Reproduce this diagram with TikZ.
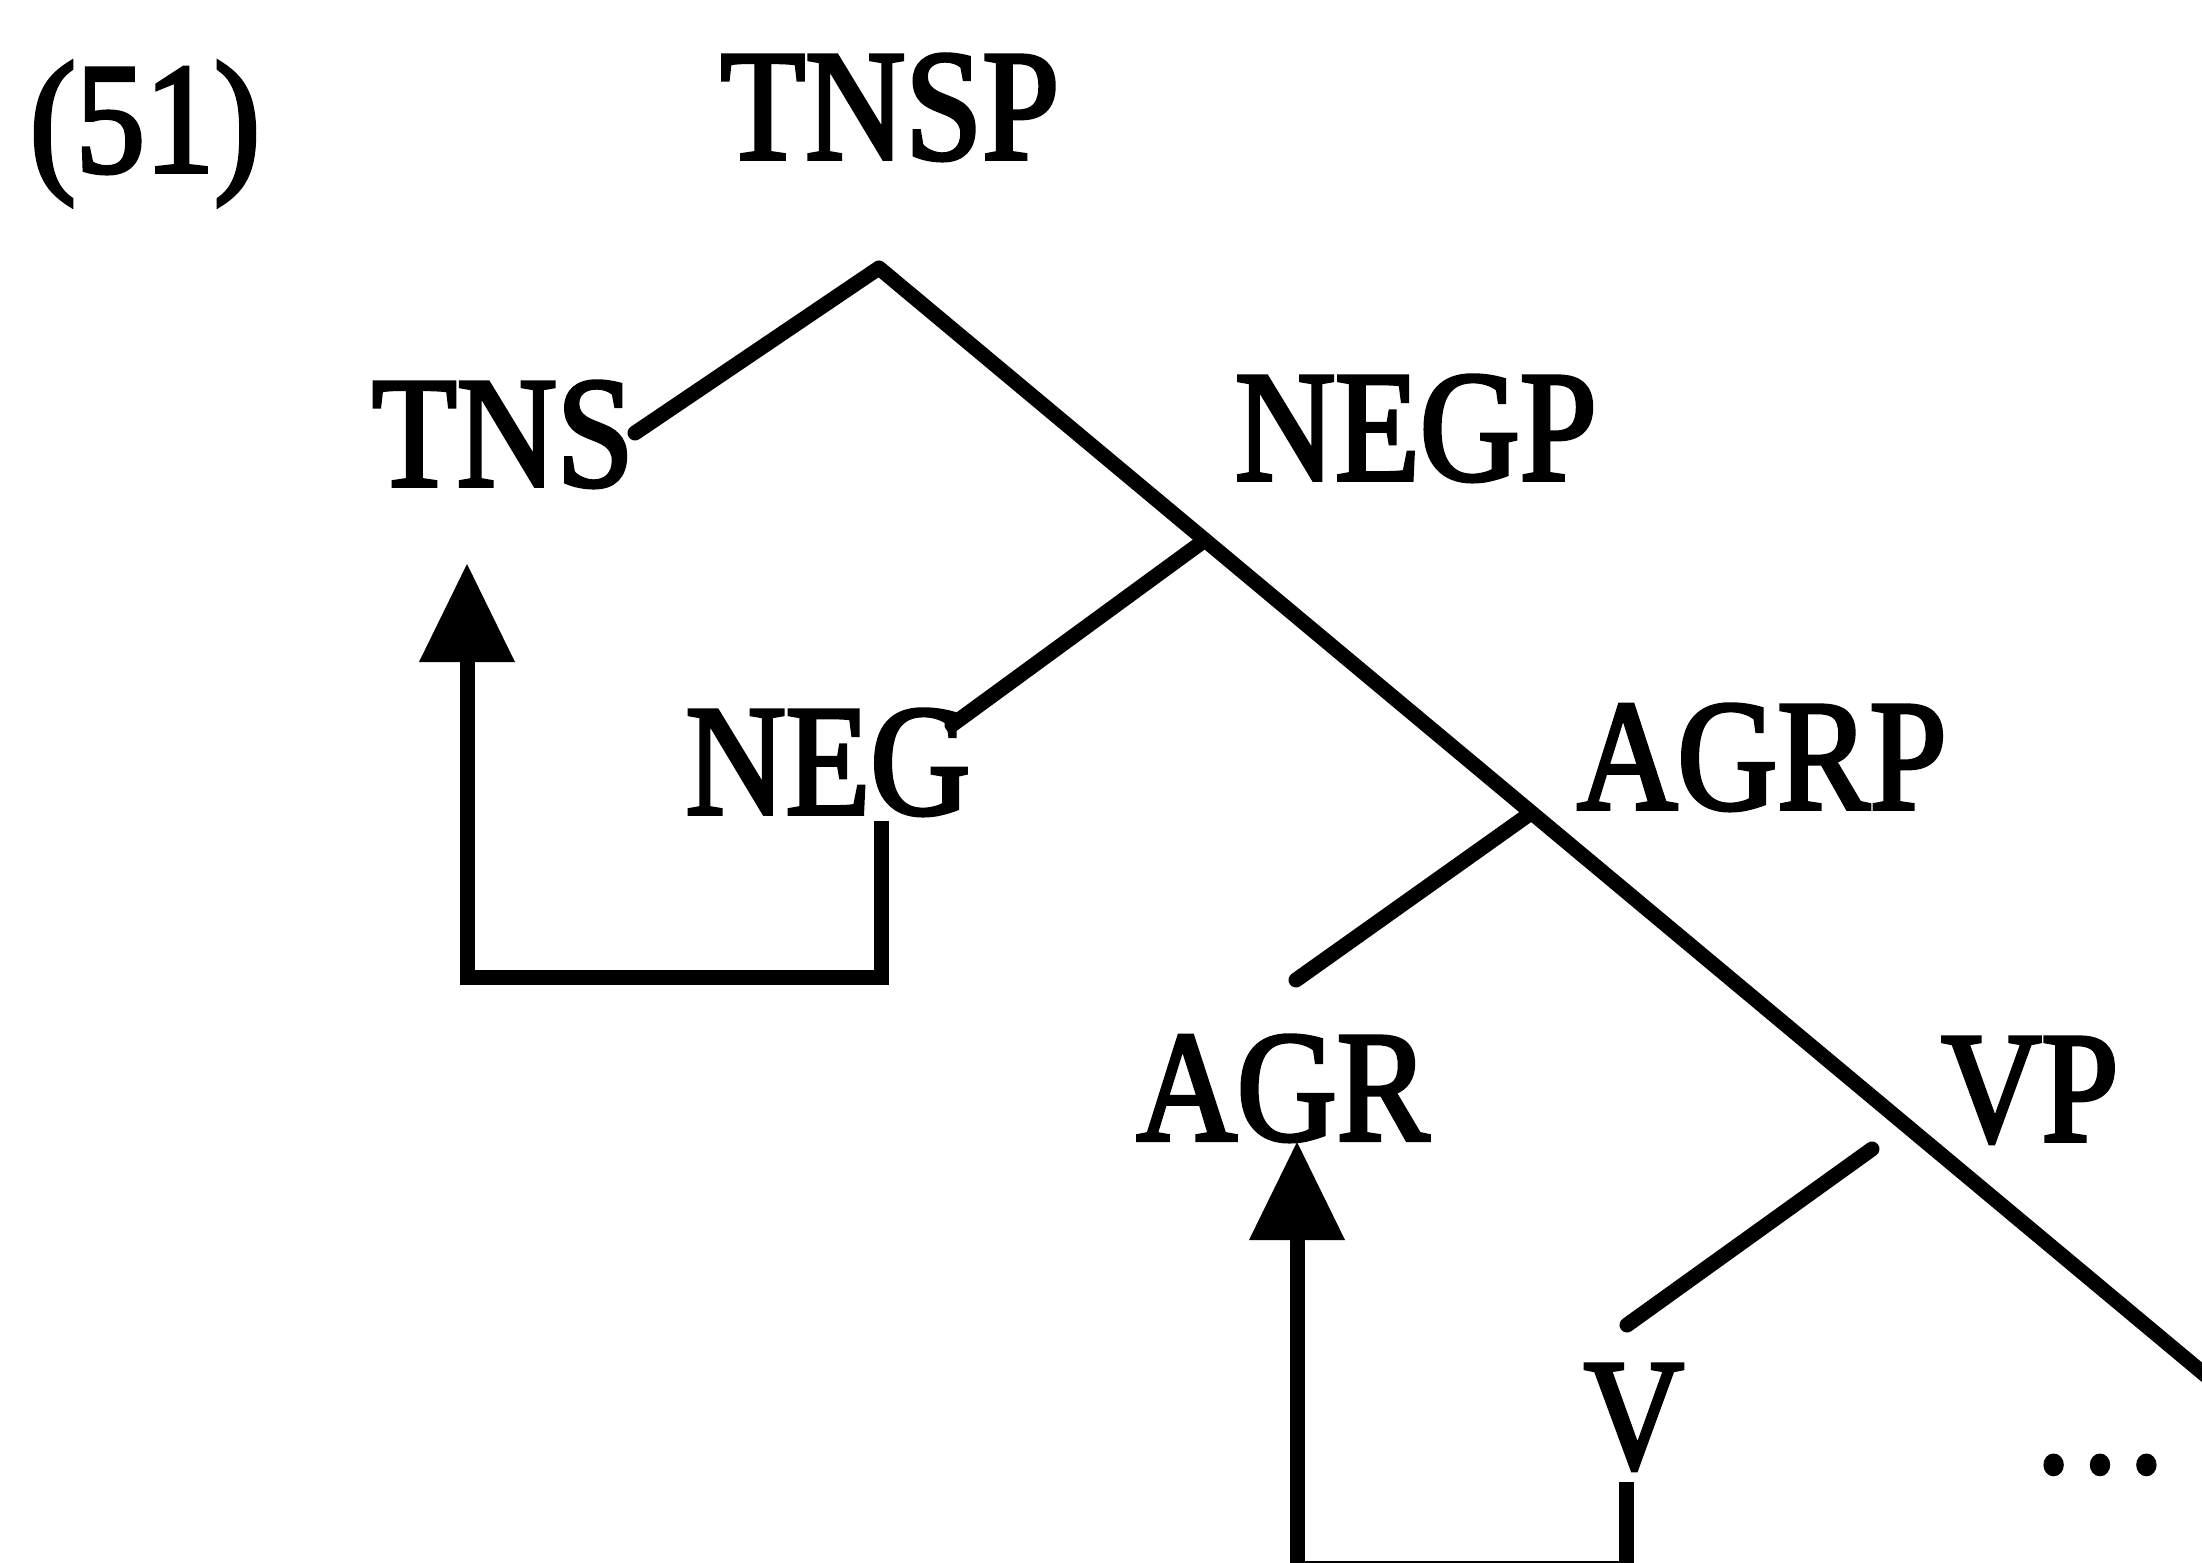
\documentclass[tikz,border=0pt]{standalone}
\usepackage{fontspec}
\setmainfont{Liberation Serif}[FakeStretch=0.875,FakeBold=2.5]
\usetikzlibrary{arrows.meta}
\begin{document}
\begin{tikzpicture}[x=0.01cm,y=-0.01cm,
  lbl/.style={inner sep=0pt, anchor=base, font=\fontsize{45pt}{54pt}\selectfont},
  branch/.style={line width=0.15cm, line cap=round, line join=round},
  movepath/.style={line width=0.15cm, line join=miter,
    -{Triangle[length=0.98cm,width=0.96cm,line width=0pt]}}]
\useasboundingbox (0,0) rectangle (2202,1563);
\clip (0,0) rectangle (2202,1563);

% labels
\node[lbl] (ex)   at (145,172)  {(51)};
\node[lbl] (tnsp) at (890,159)  {TNSP};
\node[lbl] (tns)  at (503,486)  {TNS};
\node[lbl] (negp) at (1416,480) {NEGP};
\node[lbl] (neg)  at (828,814)  {NEG};
\node[lbl] (agrp) at (1762,809) {AGRP};
\node[lbl] (agr)  at (1283,1140) {AGR};
\node[lbl] (vp)   at (2030,1141) {VP};
\node[lbl] (v)    at (1634,1468) {V};
\node[lbl] (rest) at (2100,1472) {…};

% branch points
\coordinate (apex)   at (879,268);
\coordinate (tnsend) at (635,433);
\coordinate (spine)  at (2240,1404);
\coordinate (j1)     at (1205,540);
\coordinate (negend) at (952,725);
\coordinate (j2)     at (1531,813);
\coordinate (agrend) at (1296,980);
\coordinate (vtop)   at (1872,1149);
\coordinate (vend)   at (1627,1325);

% tree branches
\draw[branch] (tnsend) -- (apex) -- (spine);
\draw[branch] (j1) -- (negend);
\draw[branch] (j2) -- (agrend);
\draw[branch] (vtop) -- (vend);

% head movement: NEG to TNS
\coordinate (negfoot) at (881,821);
\coordinate (negcorner) at (881,977);
\coordinate (tnscorner) at (467,977);
\coordinate (tnstip) at (467,564);
\draw[movepath] (negfoot) -- (negcorner) -- (tnscorner) -- (tnstip);

% head movement: V to AGR
\coordinate (vfoot) at (1626,1482);
\coordinate (vcorner) at (1626,1568);
\coordinate (agrcorner) at (1297,1568);
\coordinate (agrtip) at (1297,1142);
\draw[movepath] (vfoot) -- (vcorner) -- (agrcorner) -- (agrtip);
\end{tikzpicture}
\end{document}
